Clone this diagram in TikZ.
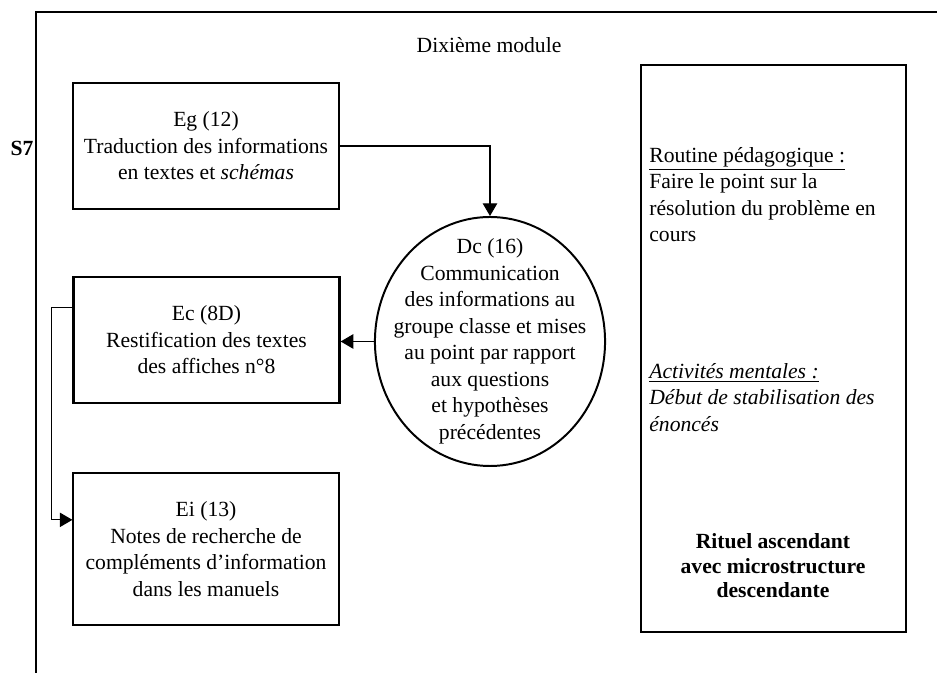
\documentclass[tikz,border=0pt]{standalone}
\usepackage{fontspec}
\setmainfont{Liberation Serif}
\usetikzlibrary{arrows.meta,shapes.geometric,positioning,calc}

\begin{document}
\begin{tikzpicture}[x=0.555pt,y=-0.555pt,
  every node/.style={font=\fontsize{12}{14.7}\selectfont},
  etape/.style={draw, align=center, inner sep=0pt, minimum width=147.6pt, line width=0.7pt},
  fort/.style={etape, line width=1.3pt},
  fleche/.style={-{Triangle[length=7pt,width=8pt]}, line width=0.6pt}]
\useasboundingbox (0,0) rectangle (937,673);
% cadre de la seance
\draw[line width=0.6pt] (36,673) -- (36,12) -- (937,12);
\node (titre) at (489,45) {Dixième module};
\node[font=\bfseries\fontsize{12}{14.7}\selectfont] (seance) at (22,148) {S7};
% etapes
\node[fort, minimum height=69.9pt] (Eg) at (206,146) {Eg (12)\\Traduction des informations\\en textes et \textit{schémas}};
\node[fort, minimum height=69.9pt] (Ec) at (206.5,340) {Ec (8D)\\Restification des textes\\des affiches n°8};
\node[etape, minimum height=84.4pt] (Ei) at (206,549) {Ei (13)\\Notes de recherche de\\compléments d'information\\dans les manuels};
\node[draw, ellipse, line width=1.1pt, minimum width=127.7pt, minimum height=138.2pt, inner sep=0pt] (Dc) at (490,341.5) {};
\node[align=center] (Dctexte) at (Dc.center) {Dc (16)\\Communication\\des informations au\\groupe classe et mises\\au point par rapport\\aux questions\\et hypothèses\\précédentes};
% connecteurs
\draw[fleche] (Eg.east) -| (Dc.north);
\draw[fleche] (Dc.west) -- (Dc.west -| Ec.east);
\coordinate (depart) at ($(Ec.north west)!0.25!(Ec.south west)$);
\coordinate (arrivee) at ($(Ei.north west)!0.31!(Ei.south west)$);
\draw[fleche] (depart) -- ++(-21,0) |- (arrivee);
% encadre de droite
\node[etape, minimum width=147.1pt, minimum height=314.7pt] (bilan) at (773.5,348.5) {};
\node[align=left, anchor=north west, inner sep=0pt] (routine) at (649,147) {\underline{Routine pédagogique :}\\Faire le point sur la\\résolution du problème en\\cours};
\node[align=left, anchor=north west, inner sep=0pt, font=\itshape\fontsize{12}{14.7}\selectfont] (mentales) at (649,363) {\underline{Activités mentales :}\\Début de stabilisation des\\énoncés};
\node[align=center, font=\bfseries\fontsize{12}{13.6}\selectfont] (rituel) at (773,566) {Rituel ascendant\\avec microstructure\\descendante};
\end{tikzpicture}
\end{document}
